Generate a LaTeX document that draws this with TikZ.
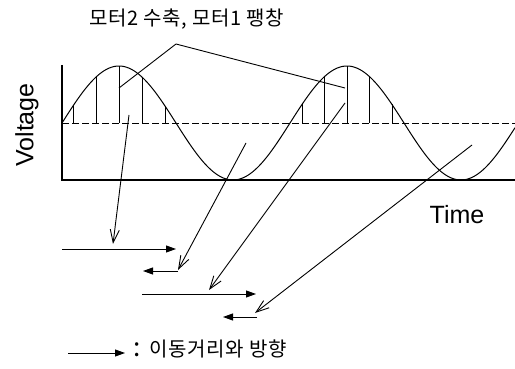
\documentclass[tikz,border=0pt]{standalone}
\usepackage{fontspec}
\setmainfont{Liberation Sans}
\newfontfamily\kr[LetterSpace=3]{Noto Sans CJK KR}
\usetikzlibrary{arrows.meta}
\begin{document}
\begin{tikzpicture}[x=1pt,y=-1pt,line width=0.9pt,
  axisline/.style={line width=1.1pt},
  sample/.style={line width=0.9pt},
  diag/.style={-{Straight Barb[length=13pt,width=9pt,line width=0.9pt]}},
  disp/.style={-{Triangle[length=10pt,width=7pt]}},
  lbl/.style={inner sep=0pt,font=\fontsize{25}{28}\selectfont},
  krl/.style={inner sep=0pt,font=\kr\fontsize{20}{22}\selectfont}]
\useasboundingbox (0,0) rectangle (515,369);

% axes
\coordinate (ytop) at (62,65);
\coordinate (orig) at (62,180);
\coordinate (xend) at (515,180);
\draw[axisline] (ytop) -- (orig) -- (xend);
\coordinate (dl) at (62,123);
\coordinate (dr) at (515,123);
\draw[dash pattern=on 7pt off 3pt] (dl) -- (dr);

% signal
\draw[line width=1pt] plot[domain=62:515,samples=240,smooth] (\x,{123-57*sin(1.578947*(\x-62))});

% sample lines
\foreach \xx in {73,96,119,142,165,302,324,347,369,392}
  \draw[sample] (\xx,123) -- (\xx,{123-57*sin(1.578947*(\xx-62))});

% labels
\node[lbl,rotate=90] (volt) at (27,125) {Voltage};
\node[lbl] (time) at (457,215) {Time};
\node[krl] (title) at (187,19) {모터2 수축, 모터1 팽창};

% pointer lines from title
\coordinate (apex) at (176,44);
\coordinate (p1) at (119,88);
\coordinate (p2) at (345,88);
\draw (p1) -- (apex) -- (p2);

% diagonal arrows
\coordinate (d1s) at (129,115); \coordinate (d1e) at (113,244);
\coordinate (d2s) at (246,143); \coordinate (d2e) at (178,270);
\coordinate (d3s) at (345,103); \coordinate (d3e) at (209,290);
\coordinate (d4s) at (472,145); \coordinate (d4e) at (255,313);
\draw[diag] (d1s) -- (d1e);
\draw[diag] (d2s) -- (d2e);
\draw[diag] (d3s) -- (d3e);
\draw[diag] (d4s) -- (d4e);

% displacement arrows
\coordinate (as) at (62,249);  \coordinate (ae) at (176,249);
\coordinate (bs) at (178,271); \coordinate (be) at (143,271);
\coordinate (cs) at (142,294); \coordinate (ce) at (256,294);
\coordinate (ds) at (257,317); \coordinate (de) at (223,317);
\draw[disp] (as) -- (ae);
\draw[disp] (bs) -- (be);
\draw[disp] (cs) -- (ce);
\draw[disp] (ds) -- (de);

% legend
\coordinate (ls) at (68,353); \coordinate (le) at (125,353);
\draw[disp] (ls) -- (le);
\node[krl,anchor=west] (legend) at (133,349) {{\fontsize{26}{26}\selectfont :}\hspace{9pt}이동거리와 방향};
\end{tikzpicture}
\end{document}
